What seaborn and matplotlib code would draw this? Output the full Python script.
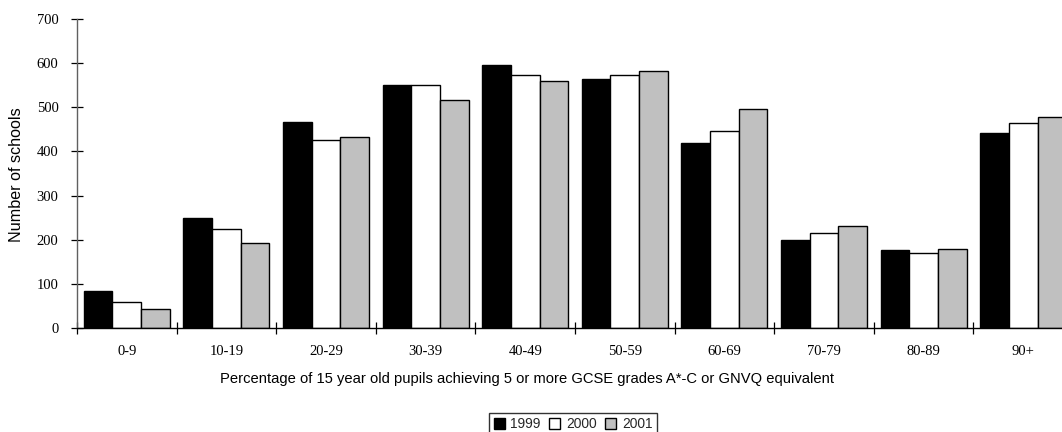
import matplotlib
matplotlib.use("Agg")
import matplotlib.pyplot as plt
from matplotlib.patches import Patch
import seaborn as sns
import pandas as pd

# ---- data ----
bands = ["0-9", "10-19", "20-29", "30-39", "40-49", "50-59", "60-69", "70-79", "80-89", "90+"]
years = ["1999", "2000", "2001"]
schools_1999 = [84, 250, 466, 551, 596, 563, 418, 199, 176, 441]
schools_2000 = [60, 225, 425, 551, 573, 573, 447, 216, 170, 465]
schools_2001 = [42, 192, 432, 517, 560, 583, 497, 231, 178, 479]
year_colors = ["#000000", "#FFFFFF", "#C0C0C0"]
y_ticks = [0, 100, 200, 300, 400, 500, 600, 700]

df = pd.DataFrame({
    "band": bands * 3,
    "year": [years[0]] * len(bands) + [years[1]] * len(bands) + [years[2]] * len(bands),
    "schools": schools_1999 + schools_2000 + schools_2001,
})

sns.set_style("white")
plt.rcParams["font.family"] = ["Liberation Sans", "DejaVu Sans"]

W, H = 1062, 432
fig = plt.figure(figsize=(W / 100, H / 100), dpi=100)
# plot area: x from 77px to 1073px (extends past right edge), y from 19px to 328px (top-down)
ax = fig.add_axes([77 / W, (H - 328) / H, 996 / W, 309 / H])

sns.barplot(data=df, x="band", y="schools", hue="year", order=bands, hue_order=years,
            palette=year_colors, saturation=1, edgecolor="black", linewidth=1.0,
            width=0.864, gap=0, errorbar=None, legend=False, ax=ax)

ax.set_xlim(-0.5, len(bands) - 0.5)
ax.set_ylim(0, 700)
ax.set_yticks(y_ticks)
ax.set_yticklabels([str(v) for v in y_ticks])

# category labels at centres, boundary ticks between categories
ax.set_xticks(range(len(bands)))
ax.set_xticklabels(bands)
ax.set_xticks([i - 0.5 for i in range(len(bands) + 1)], minor=True)
ax.tick_params(which="both", left=True, bottom=True, top=False, right=False)
ax.tick_params(axis="x", which="major", length=0, pad=12)
ax.tick_params(axis="x", which="minor", direction="inout", length=8, width=0.9, color="black")
ax.tick_params(axis="y", which="major", direction="inout", length=8.5, width=0.9, color="black", pad=9)
for lab in ax.get_xticklabels() + ax.get_yticklabels():
    lab.set_family(["Liberation Serif", "DejaVu Serif"])
    lab.set_fontsize(10.5)
    lab.set_color("black")

for side in ["top", "right"]:
    ax.spines[side].set_visible(False)
ax.spines["left"].set_color("#606060")
ax.spines["bottom"].set_color("black")
ax.spines["left"].set_linewidth(1.0)
ax.spines["bottom"].set_linewidth(1.0)

ax.set_xlabel("")
ax.set_ylabel("")
fig.text(16.5 / W, 1 - 175 / H, "Number of schools", rotation=90, ha="center", va="center",
         fontsize=11.6, color="black")
fig.text(527 / W, (H - 383) / H, "Percentage of 15 year old pupils achieving 5 or more GCSE grades A*-C or GNVQ equivalent",
         ha="center", va="baseline", fontsize=10.6, color="black")

handles = [Patch(facecolor=c, edgecolor="black", linewidth=1.0, label=y) for c, y in zip(year_colors, years)]
leg = fig.legend(handles=handles, loc="upper center", bbox_to_anchor=(573 / W, 1 - 413 / H),
                 ncol=3, fontsize=9.9, frameon=True, fancybox=False, edgecolor="black",
                 handlelength=0.8, handleheight=0.8, handletextpad=0.4, columnspacing=0.65,
                 borderpad=0.3, borderaxespad=0)
leg.get_frame().set_linewidth(1.0)

fig.savefig("out.png", dpi=100)
